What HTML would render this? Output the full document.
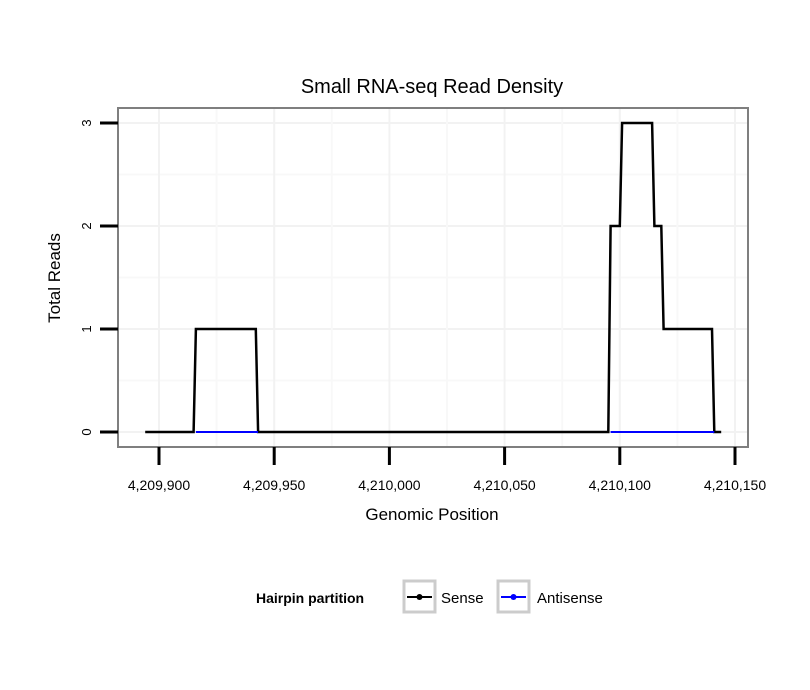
<!DOCTYPE html>
<html><head><meta charset="utf-8"><style>
body{margin:0;background:#fff;}
svg{display:block;font-family:"Liberation Sans",sans-serif;}
</style></head><body>
<svg id="chart" width="810" height="690">
<rect width="810" height="690" fill="#fff"/>
<text x="432" y="93" text-anchor="middle" font-size="20" fill="#000">Small RNA-seq Read Density</text>
<g id="grid"></g>
<g id="series"></g>
<rect x="118" y="108" width="630" height="339" fill="none" stroke="#7f7f7f" stroke-width="2"/>
<g id="axes"></g>
<text x="432" y="520" text-anchor="middle" font-size="17">Genomic Position</text>
<text transform="translate(60,278) rotate(-90)" text-anchor="middle" font-size="17">Total Reads</text>
<g>
<text x="256" y="603" font-size="14" font-weight="bold">Hairpin partition</text>
<g>
<rect x="404" y="581" width="31" height="31" fill="#fff" stroke="#cccccc" stroke-width="3"/>
<line x1="407" y1="597" x2="432" y2="597" stroke="#000" stroke-width="2"/>
<circle cx="419.5" cy="597" r="3" fill="#000"/>
<text x="441" y="603" font-size="15">Sense</text>
</g>
<g>
<rect x="498" y="581" width="31" height="31" fill="#fff" stroke="#cccccc" stroke-width="3"/>
<line x1="501" y1="597" x2="526" y2="597" stroke="#0000ff" stroke-width="2"/>
<circle cx="513.5" cy="597" r="3" fill="#0000ff"/>
<text x="537" y="603" font-size="15">Antisense</text>
</g>
</g>
</svg>
<script>
const xTicks = [4209900, 4209950, 4210000, 4210050, 4210100, 4210150];
const yTicks = [0, 1, 2, 3];
const senseX = [4209894, 4209915, 4209916, 4209942, 4209943, 4210095, 4210096, 4210100, 4210101, 4210114, 4210115, 4210118, 4210119, 4210140, 4210141, 4210144];
const senseY = [0, 0, 1, 1, 0, 0, 2, 2, 3, 3, 2, 2, 1, 1, 0, 0];
const antiSegStart = [4209916, 4210096];
const antiSegEnd = [4209943, 4210141];
const antiY = [0, 0];

const NS = "http://www.w3.org/2000/svg";
function xs(v){ return 159 + (v - 4209900) * (576 / 250); }
function ys(v){ return 432 - v * 103; }
function el(tag, attrs, parent){ const e = document.createElementNS(NS, tag); for (const k in attrs) e.setAttribute(k, attrs[k]); parent.appendChild(e); return e; }
function fmt(n){ return n.toString().replace(/\B(?=(\d{3})+(?!\d))/g, ","); }

const grid = document.getElementById('grid');
for (let i = 0; i < yTicks.length; i++) {
  const l = el('line', {x1:119, x2:747, y1:ys(yTicks[i]), y2:ys(yTicks[i]), stroke:'#f2f2f2', 'stroke-width':2}, grid);
  
  
  if (i < yTicks.length - 1) {
    const m = el('line', {x1:119, x2:747, y1:ys((yTicks[i]+yTicks[i+1])/2), y2:ys((yTicks[i]+yTicks[i+1])/2), stroke:'#f8f8f8', 'stroke-width':2}, grid);
    
    
  }
}
for (let i = 0; i < xTicks.length; i++) {
  const l = el('line', {y1:109, y2:446, x1:xs(xTicks[i]), x2:xs(xTicks[i]), stroke:'#f2f2f2', 'stroke-width':2}, grid);
  
  
  if (i < xTicks.length - 1) {
    const mx = xs((xTicks[i]+xTicks[i+1])/2);
    const m = el('line', {y1:109, y2:446, x1:mx, x2:mx, stroke:'#f8f8f8', 'stroke-width':2}, grid);
    
    
  }
}

const series = document.getElementById('series');
let pts = senseX.map((x, i) => xs(x).toFixed(1) + ',' + ys(senseY[i]).toFixed(1)).join(' ');
const sl = el('polyline', {points:pts, fill:'none', stroke:'#000', 'stroke-width':2.5, 'stroke-linejoin':'miter'}, series);


for (let i = 0; i < antiSegStart.length; i++) {
  const a = el('line', {x1:xs(antiSegStart[i]), x2:xs(antiSegEnd[i]), y1:ys(antiY[i]), y2:ys(antiY[i]), stroke:'#0000ff', 'stroke-width':2}, series);
  
  
}

const axes = document.getElementById('axes');
for (const t of yTicks) {
  const tk = el('line', {x1:100, x2:118, y1:ys(t), y2:ys(t), stroke:'#000', 'stroke-width':3}, axes);
  
  
  const tx = el('text', {transform:`translate(91,${ys(t)}) rotate(-90)`, 'text-anchor':'middle', 'font-size':13}, axes);
  tx.textContent = t;
  
  
}
for (const t of xTicks) {
  const tk = el('line', {x1:xs(t), x2:xs(t), y1:447, y2:465, stroke:'#000', 'stroke-width':3}, axes);
  
  
  const tx = el('text', {x:xs(t), y:490, 'text-anchor':'middle', 'font-size':14}, axes);
  tx.textContent = fmt(t);
  
  
}
</script>
</body></html>
